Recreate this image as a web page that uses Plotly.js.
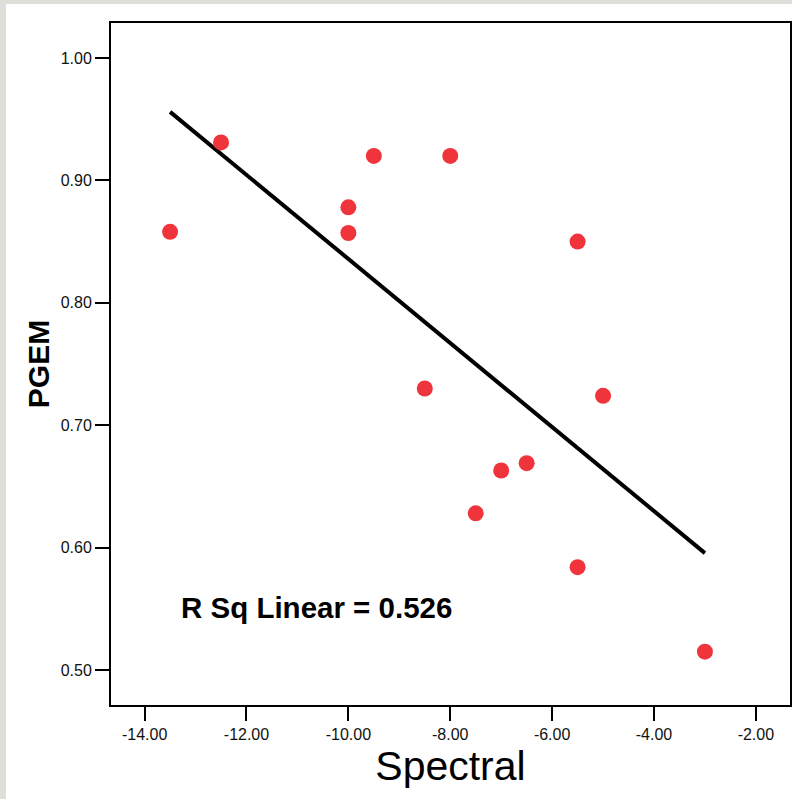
<!DOCTYPE html>
<html>
<head>
<meta charset="utf-8">
<script src="https://cdn.plot.ly/plotly-3.0.1.min.js"></script>
<style>
  html, body { margin: 0; padding: 0; background: #dfdfda; width: 792px; height: 799px; overflow: hidden; }
  #chart { position: absolute; left: 6px; top: 4px; width: 786px; height: 795px; background: #ffffff; }
</style>
</head>
<body>
<div id="chart"></div>
<script>
// Data
const spectral = [-13.5, -12.5, -9.5, -8.0, -10.0, -10.0, -5.5, -8.5, -5.0, -7.0, -6.5, -7.5, -5.5, -3.0];
const pgem     = [0.858, 0.931, 0.920, 0.920, 0.878, 0.857, 0.850, 0.730, 0.724, 0.663, 0.669, 0.628, 0.584, 0.515];

// Fit line end points (as drawn in the reference)
const fitX = [-13.5, -3.0];
const fitY = [0.956, 0.5955];

const xTickVals = [-14, -12, -10, -8, -6, -4, -2];
const xTickText = ['-14.00', '-12.00', '-10.00', '-8.00', '-6.00', '-4.00', '-2.00'];
const yTickVals = [0.5, 0.6, 0.7, 0.8, 0.9, 1.0];
const yTickText = ['0.50', '0.60', '0.70', '0.80', '0.90', '1.00'];

const xTitle = 'Spectral';
const yTitle = 'PGEM';
const rsqLabel = 'R Sq Linear = 0.526';

const FONT = 'Arial, "Liberation Sans", Helvetica, sans-serif';

const traces = [
  {
    x: fitX, y: fitY, type: 'scatter', mode: 'lines',
    line: { color: '#000000', width: 4 },
    hoverinfo: 'skip'
  },
  {
    x: spectral, y: pgem, type: 'scatter', mode: 'markers',
    marker: { color: '#f0343c', size: 16, line: { width: 0 } }
  }
];

const layout = {
  width: 786, height: 795,
  margin: { l: 105, r: 2, t: 19, b: 94, pad: 0 },
  paper_bgcolor: '#ffffff',
  plot_bgcolor: '#ffffff',
  showlegend: false,
  font: { family: FONT, color: '#000000' },
  xaxis: {
    range: [-14.66, -1.33],
    tickmode: 'array', tickvals: xTickVals, ticktext: xTickText,
    showgrid: false, zeroline: false,
    showline: true, mirror: true, linecolor: '#000000', linewidth: 2,
    ticks: 'outside', ticklen: 14, tickwidth: 2, tickcolor: '#000000',
    tickfont: { family: FONT, size: 16, color: '#111111' },
    title: { text: xTitle, font: { family: FONT, size: 41, color: '#000000' }, standoff: 5 },
    automargin: false
  },
  yaxis: {
    range: [0.4714, 1.0286],
    tickmode: 'array', tickvals: yTickVals, ticktext: yTickText,
    showgrid: false, zeroline: false,
    showline: true, mirror: true, linecolor: '#000000', linewidth: 2,
    ticks: 'outside', ticklen: 14, tickwidth: 2, tickcolor: '#000000',
    tickfont: { family: FONT, size: 16, color: '#111111' },
    title: { text: '<b>' + yTitle + '</b>', font: { family: FONT, size: 30, color: '#000000' }, standoff: 2 },
    automargin: false
  },
  annotations: [
    {
      xref: 'paper', yref: 'paper',
      x: 0.1, y: 0.143, xanchor: 'left', yanchor: 'middle',
      text: '<b>' + rsqLabel + '</b>',
      showarrow: false,
      font: { family: FONT, size: 29.5, color: '#000000' }
    }
  ]
};

Plotly.newPlot('chart', traces, layout, { displayModeBar: false, staticPlot: true });
</script>
</body>
</html>
